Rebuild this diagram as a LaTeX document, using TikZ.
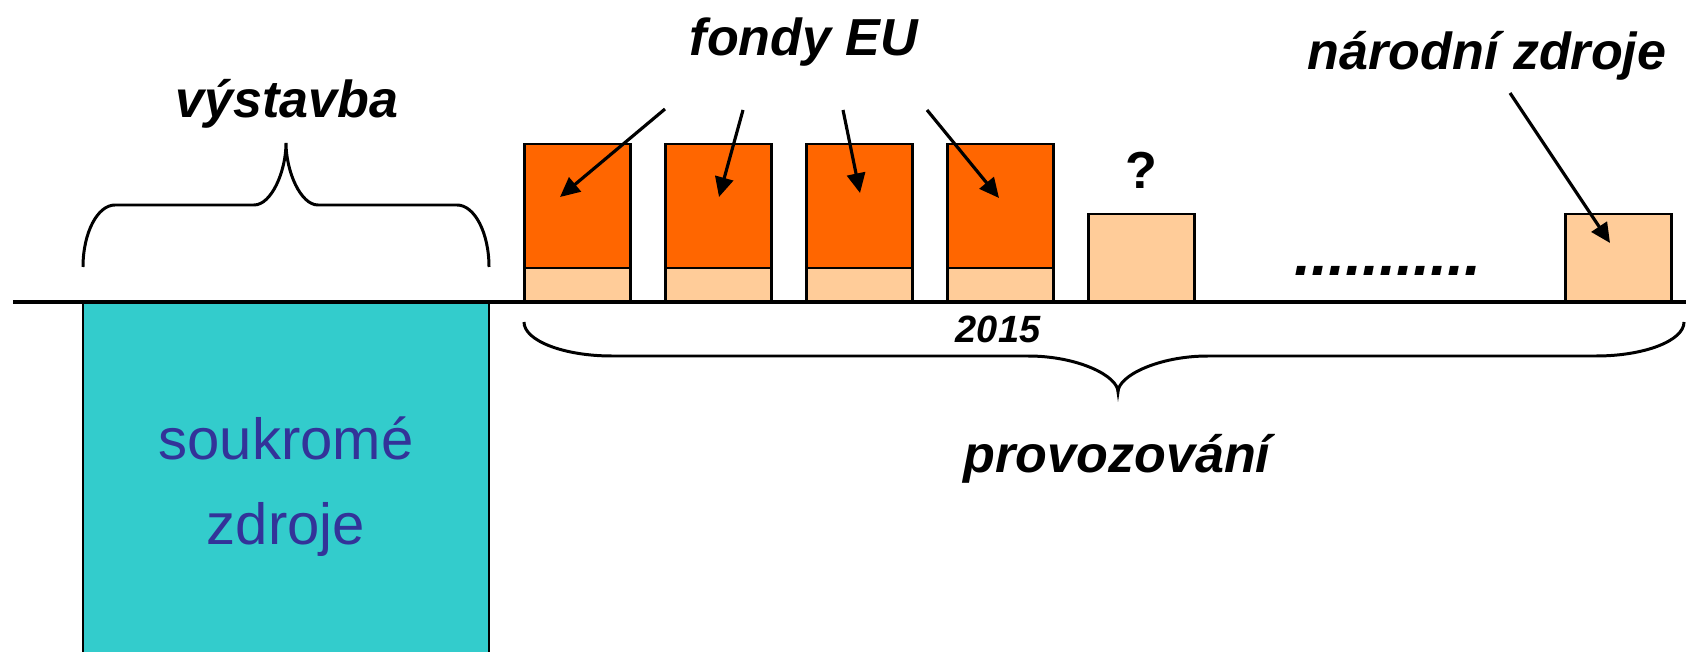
\documentclass[tikz,border=0pt]{standalone}
\usepackage{fontspec}
\setmainfont{Liberation Sans}
\usetikzlibrary{arrows.meta}

\definecolor{eufund}{HTML}{FF6600}
\definecolor{natfund}{HTML}{FFCC99}
\definecolor{privfund}{HTML}{33CCCC}
\definecolor{privink}{HTML}{333399}

\begin{document}
\begin{tikzpicture}[x=0.01cm, y=-0.01cm,
  bigtext/.style   = {font=\fontsize{14.8}{17}\selectfont\bfseries\itshape, anchor=base, inner sep=0pt},
  qmarktext/.style = {font=\fontsize{14.8}{17}\selectfont\bfseries, anchor=base, inner sep=0pt},
  dotrow/.style    = {font=\fontsize{17.4}{20}\selectfont\bfseries\itshape, anchor=base, inner sep=0pt},
  yeartext/.style  = {font=\fontsize{10.8}{13}\selectfont\bfseries\itshape, anchor=base, inner sep=0pt},
  privtext/.style  = {font=\fontsize{16.5}{19}\selectfont, text=privink, anchor=base, inner sep=0pt},
  eutop/.style     = {draw, line width=0.85pt, fill=eufund, minimum width=1.06cm, minimum height=1.24cm,
                      inner sep=0pt, outer sep=0pt, anchor=north west},
  eubase/.style    = {draw, line width=0.85pt, fill=natfund, minimum width=1.06cm, minimum height=0.34cm,
                      inner sep=0pt, outer sep=0pt, anchor=north west},
  natbox/.style    = {draw, line width=0.85pt, fill=natfund, minimum width=1.06cm, minimum height=0.88cm,
                      inner sep=0pt, outer sep=0pt, anchor=north west},
  fundarrow/.style = {line width=0.9pt, -{Triangle[length=5.6pt, width=5.2pt]}},
  bracepath/.style = {line width=0.85pt},
  axisline/.style  = {line width=1.14pt}
]
\useasboundingbox (0,0) rectangle (1686,652);

% private funding block below the time axis
\fill[privfund] (83,302) rectangle (489,652);
\draw[line width=0.75pt] (83,302) -- (83,652) (489,302) -- (489,652);
\node[privtext] (sk1) at (286,459) {soukromé};
\node[privtext] (sk2) at (286,544) {zdroje};

% yearly operating costs: EU share on top, national share below
\foreach \n/\x in {1/524, 2/665, 3/806, 4/947} {
  \node[eutop]  (eu\n) at (\x,144) {};
  \node[eubase] (nb\n) at (\x,268) {};
}
\node[natbox] (natq)    at (1088,214) {};
\node[natbox] (natlast) at (1565,214) {};

% time axis
\draw[axisline] (13,302) -- (1686,302);

% brace over the construction phase
\draw[bracepath] (83,267) .. controls (83,233) and (97.4,205) .. (115,205)
  -- (254,205) .. controls (271.6,205) and (286,171) .. (286,143)
  .. controls (286,171) and (300.4,205) .. (318,205)
  -- (457,205) .. controls (474.6,205) and (489,233) .. (489,267);

% brace under the operating phase
\draw[bracepath] (524,322) .. controls (524,340.7) and (563.6,356) .. (612,356)
  -- (1028,356) .. controls (1077.5,356) and (1118,375.8) .. (1118,392)
  .. controls (1118,375.8) and (1158.5,356) .. (1208,356)
  -- (1596,356) .. controls (1644.4,356) and (1684,340.7) .. (1684,322);

% labels
\node[bigtext]   (vystavba) at (287,118)  {výstavba};
\node[bigtext]   (fondy)    at (804,56)   {fondy EU};
\node[bigtext]   (narodni)  at (1487,70)  {národní zdroje};
\node[bigtext]   (provoz)   at (1117,472) {provozování};
\node[qmarktext] (qm)       at (1141,189) {?};
\node[dotrow]    (dots)     at (1388,276) {...........};
\node[yeartext]  (year)     at (998,342)  {2015};

% arrows from the labels into the boxes
\coordinate (fs1) at (665,109);  \coordinate (ft1) at (560,197);
\coordinate (fs2) at (743,110);  \coordinate (ft2) at (719,197);
\coordinate (fs3) at (843,110);  \coordinate (ft3) at (860,193);
\coordinate (fs4) at (927,110);  \coordinate (ft4) at (999,198);
\coordinate (ns)  at (1510,93);  \coordinate (nt)  at (1610,243);
\draw[fundarrow] (fs1) -- (ft1);
\draw[fundarrow] (fs2) -- (ft2);
\draw[fundarrow] (fs3) -- (ft3);
\draw[fundarrow] (fs4) -- (ft4);
\draw[fundarrow] (ns) -- (nt);
\end{tikzpicture}
\end{document}
